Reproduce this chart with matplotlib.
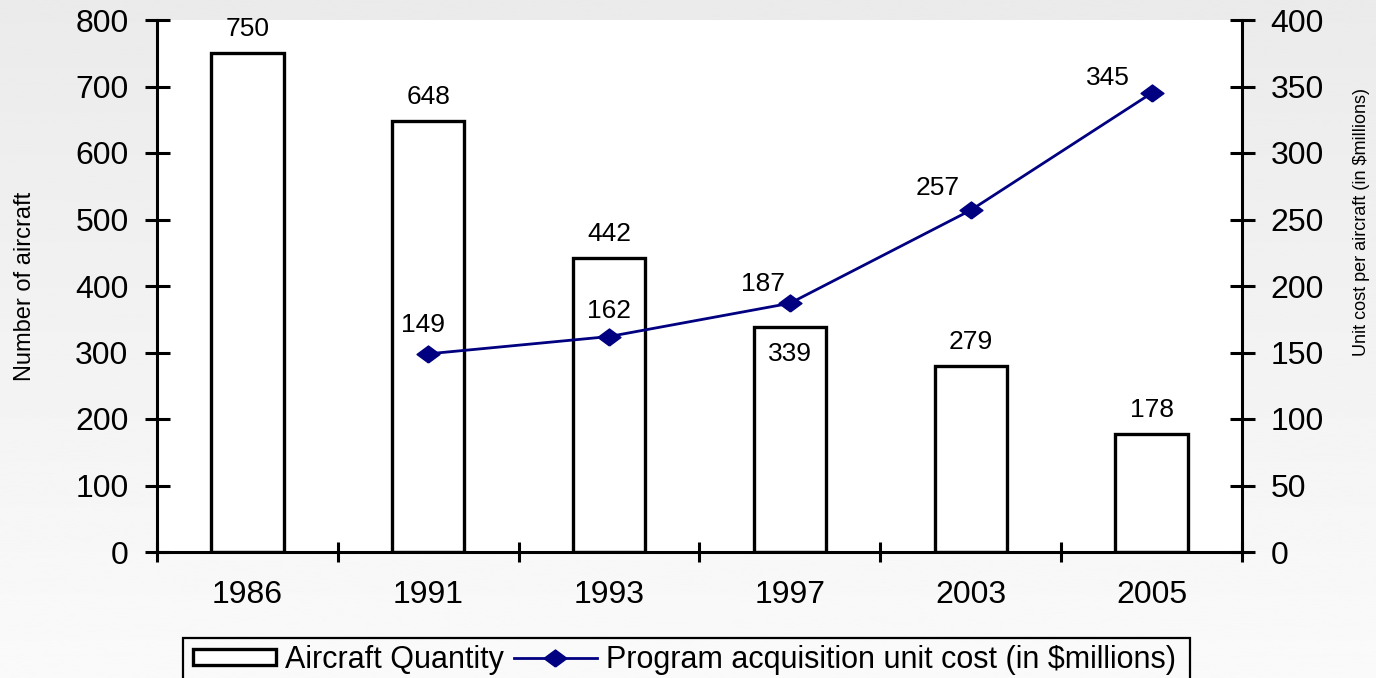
import numpy as np
import matplotlib
matplotlib.use("Agg")
import matplotlib.pyplot as plt
from matplotlib import font_manager
from matplotlib.patches import Rectangle

# ---- data ----
years = ["1986", "1991", "1993", "1997", "2003", "2005"]
aircraft_quantity = [750, 648, 442, 339, 279, 178]
unit_cost = [np.nan, 149, 162, 187, 257, 345]   # no cost figure for 1986

bar_series_name = "Aircraft Quantity"
line_series_name = "Program acquisition unit cost (in \\$millions)"
left_axis_title = "Number of aircraft"
right_axis_title = "Unit cost per aircraft (in \\$millions)"


def pick_font(*names):
    for n in names:
        try:
            font_manager.findfont(font_manager.FontProperties(family=n),
                                  fallback_to_default=False)
            return n
        except Exception:
            continue
    return "DejaVu Sans"


MAIN = pick_font("Liberation Sans", "Arial", "DejaVu Sans")
NARROW = pick_font("Liberation Sans Narrow", "Liberation Sans", "DejaVu Sans")
plt.rcParams["font.family"] = [MAIN, "DejaVu Sans"]

W, H = 1376, 678
fig = plt.figure(figsize=(W / 100, H / 100), dpi=100)

# soft grey vertical gradient behind everything
bg = fig.add_axes([0, 0, 1, 1], zorder=-10)
grad = np.linspace(0.92, 0.98, 256).reshape(-1, 1)
bg.imshow(grad, aspect="auto", cmap="gray", vmin=0, vmax=1,
          extent=[0, 1, 0, 1], origin="upper")
bg.axis("off")

# plot area in pixel terms
L, R, T, B = 157, 1242, 20, 552
ax = fig.add_axes([L / W, 1 - B / H, (R - L) / W, (B - T) / H])
ax.set_facecolor("white")

x = np.arange(len(years))
bars = ax.bar(x, aircraft_quantity, width=0.4, facecolor="white",
              edgecolor="black", linewidth=2.4, zorder=2)
ax.set_xlim(-0.5, len(years) - 0.5)
ax.set_ylim(0, 800)
ax.set_yticks(np.arange(0, 801, 100))

# category boundaries carry the tick marks, centres carry the year labels
ax.set_xticks(np.arange(-0.5, len(years), 1.0))
ax.set_xticklabels([])
ax.set_xticks(x, minor=True)
ax.set_xticklabels(years, minor=True)
ax.tick_params(axis="x", which="major", direction="inout", length=14, width=2.2)
ax.tick_params(axis="x", which="minor", length=0, labelsize=23, pad=20)
ax.tick_params(axis="y", direction="inout", length=18, width=2.2,
               labelsize=23, pad=11.5)

for s in ("top", "right"):
    ax.spines[s].set_visible(False)
for s in ("left", "bottom"):
    ax.spines[s].set_linewidth(2.2)

ax2 = ax.twinx()
ax2.set_ylim(0, 400)
ax2.set_yticks(np.arange(0, 401, 50))
ax2.tick_params(axis="y", direction="inout", length=18, width=2.2,
                labelsize=23, pad=11.5)
for s in ("top", "left", "bottom"):
    ax2.spines[s].set_visible(False)
ax2.spines["right"].set_linewidth(2.2)

diamond = [(0, -1), (1.35, 0), (0, 1), (-1.35, 0), (0, -1)]
line, = ax2.plot(x, unit_cost, color="#000080", linewidth=2.0,
                 marker=diamond, markersize=16.5, markerfacecolor="#000080",
                 markeredgecolor="#000080", zorder=3)

# value labels
bar_label_dy = [24, 24, 24, -27, 24, 24]
for xi, v, dy in zip(x, aircraft_quantity, bar_label_dy):
    ax.annotate(f"{v}", (xi, v), xytext=(0, dy), textcoords="offset pixels",
                ha="center", va="center", fontsize=19)

line_label_offsets = [None, (-5, 29), (0, 26), (-27, 19), (-33, 22), (-44, 15)]
for xi, v, off in zip(x, unit_cost, line_label_offsets):
    if off is None or np.isnan(v):
        continue
    ax2.annotate(f"{int(v)}", (xi, v), xytext=off, textcoords="offset pixels",
                 ha="center", va="center", fontsize=19)

# axis titles
ax.set_ylabel(left_axis_title, fontfamily=NARROW, fontsize=17)
ax.yaxis.set_label_coords((25 - L) / (R - L), 0.5)
ax.yaxis.label.set_verticalalignment("center")
ax2.set_ylabel(right_axis_title, fontfamily=NARROW, fontsize=13)
ax2.yaxis.set_label_coords((1362 - L) / (R - L), (B - 222) / (B - T))
ax2.yaxis.label.set_verticalalignment("center")

# legend with a frame running off the bottom edge
fig.legend([bars, line], [bar_series_name, line_series_name],
           loc="upper left", bbox_to_anchor=(193 / W, 1 - 645 / H),
           ncol=2, frameon=False, fontsize=22, borderpad=0,
           borderaxespad=0, handlelength=2.7, handleheight=0.45,
           handletextpad=0.3, columnspacing=0.35)
fig.patches.append(Rectangle((183 / W, -0.05), (1190 - 183) / W,
                             (1 - 638 / H) + 0.05, transform=fig.transFigure,
                             facecolor="none", edgecolor="black",
                             linewidth=1.6, clip_on=False))

fig.savefig("out.png", dpi=100, facecolor=fig.get_facecolor())
